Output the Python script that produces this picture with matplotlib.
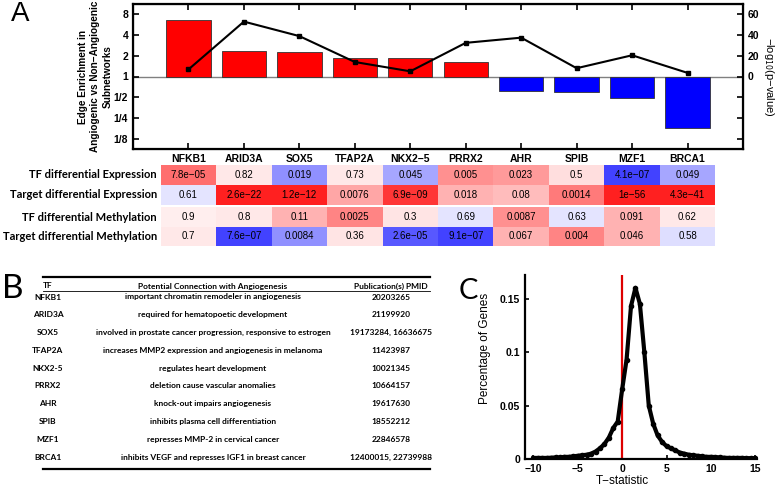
import numpy as np
import matplotlib
matplotlib.use('Agg')
import matplotlib.pyplot as plt

plt.rcParams['font.family'] = ['Liberation Sans', 'DejaVu Sans']

# ---- panel A data ----
tfs = ['NFKB1', 'ARID3A', 'SOX5', 'TFAP2A', 'NKX2−5', 'PRRX2', 'AHR', 'SPIB', 'MZF1', 'BRCA1']
enrichment = [6.6, 2.35, 2.25, 1.88, 1.88, 1.62, 0.62, 0.59, 0.49, 0.18]
neglogp = [6.8, 53, 39, 14, 5, 32.5, 37.5, 8, 20.5, 3.5]

row_names = ['TF differential Expression', 'Target differential Expression',
             'TF differential Methylation', 'Target differential Methylation']
pvals = [
    ['7.8e−05', '0.82', '0.019', '0.73', '0.045', '0.005', '0.023', '0.5', '4.1e−07', '0.049'],
    ['0.61', '2.6e−22', '1.2e−12', '0.0076', '6.9e−09', '0.018', '0.08', '0.0014', '1e−56', '4.3e−41'],
    ['0.9', '0.8', '0.11', '0.0025', '0.3', '0.69', '0.0087', '0.63', '0.091', '0.62'],
    ['0.7', '7.6e−07', '0.0084', '0.36', '2.6e−05', '9.1e−07', '0.067', '0.004', '0.046', '0.58'],
]
# signed colour intensity (red up, blue down)
heat = [
    [0.65, 0.1, -0.5, 0.1, -0.4, 0.5, 0.45, 0.15, -0.85, -0.4],
    [-0.12, 1.0, 1.0, 0.4, 0.9, 0.35, 0.3, 0.6, 1.0, 1.0],
    [0.08, 0.1, 0.35, 0.55, 0.12, -0.12, 0.5, -0.12, 0.35, 0.1],
    [0.1, -0.85, -0.5, 0.12, -0.75, -0.85, 0.35, 0.55, 0.35, -0.15],
]

# ---- panel B data ----
connections = ['important chromatin remodeler in angiogenesis',
               'required for hematopoetic development',
               'involved in prostate cancer progression, responsive to estrogen',
               'increases MMP2 expression and angiogenesis in melanoma',
               'regulates heart development',
               'deletion cause vascular anomalies',
               'knock-out impairs angiogenesis',
               'inhibits plasma cell differentiation',
               'represses MMP-2 in cervical cancer',
               'inhibits VEGF and represses IGF1 in breast cancer']
pmids = ['20203265', '21199920', '19173284, 16636675', '11423987', '10021345',
         '10664157', '19617630', '18552212', '22846578', '12400015, 22739988']

# ---- panel C data ----
t_stat = np.arange(-10, 15.5, 0.5)
pct_genes = [0.001, 0.001, 0.001, 0.001, 0.0012, 0.0015, 0.0015, 0.002, 0.002, 0.0025,
             0.003, 0.0035, 0.004, 0.005, 0.007, 0.010, 0.014, 0.020, 0.029, 0.035,
             0.065, 0.093, 0.143, 0.160, 0.145, 0.100, 0.050, 0.033, 0.022, 0.016,
             0.012, 0.010, 0.008, 0.006, 0.005, 0.004, 0.0035, 0.003, 0.0025, 0.002,
             0.002, 0.0018, 0.0015, 0.0012, 0.001, 0.001, 0.001, 0.001, 0.0008, 0.0008,
             0.0008]

W, H = 778, 488
fig = plt.figure(figsize=(W / 100, H / 100), dpi=100)

def box(l, t, r, b):
    return [l / W, 1 - b / H, (r - l) / W, (b - t) / H]

def fit_size(texts, width_px, ref):
    # scale a group of texts so the reference one is width_px wide
    fig.canvas.draw()
    w = ref.get_window_extent().width
    for t in texts:
        t.set_fontsize(t.get_fontsize() * width_px / w)

# overlay in pixel coords for letters and table
ov = fig.add_axes([0, 0, 1, 1])
ov.set_xlim(0, W)
ov.set_ylim(H, 0)
ov.axis('off')

# ---------------- panel A ----------------
ax = fig.add_axes(box(133, 4, 743, 149))
x = np.arange(1, len(tfs) + 1)
cols = ['red' if v >= 1 else 'blue' for v in enrichment]
ax.set_yscale('log', base=2)
ax.bar(x, np.array(enrichment) - 1, bottom=1, width=0.8, color=cols,
       edgecolor='#333333', linewidth=0.6, zorder=2)
ax.axhline(1, color='gray', lw=1, zorder=1)
ax.set_xlim(0, 11)
ax.set_ylim(2 ** -3.5, 2 ** 3.5)
yt = [8, 4, 2, 1, 1 / 2, 1 / 4, 1 / 8]
ax.set_yticks(yt)
ax.set_yticklabels(['8', '4', '2', '1', '1/2', '1/4', '1/8'])
ax.yaxis.set_minor_locator(matplotlib.ticker.NullLocator())
ax.set_xticks(x)
ax.set_xticklabels(tfs)
ax.tick_params(direction='in', length=4, width=1.2, labelsize=7.5, top=True)
for lab in ax.get_xticklabels() + ax.get_yticklabels():
    lab.set_fontweight('bold')
for s in ax.spines.values():
    s.set_linewidth(1.6)
ax.set_ylabel('Edge Enrichment in\nAngiogenic vs Non−Angiogenic\nSubnetworks', fontsize=7.2,
              fontweight='bold', linespacing=1.25)
ax.yaxis.set_label_coords(-0.034, 0.5)

ax2 = ax.twinx()
ax2.plot(x, neglogp, color='black', lw=1.5, marker='s', ms=3, zorder=3)
ax2.set_ylim(-70, 70)
ax2.set_yticks([-60, -40, -20, 0, 20, 40, 60])
ax2.set_yticklabels(['', '', '', '0', '20', '40', '60'])
ax2.tick_params(direction='in', length=4, width=1.2, labelsize=7.5)
for lab in ax2.get_yticklabels():
    lab.set_fontweight('bold')
ax2.set_ylabel('−log$_{10}$(p−value)', rotation=270, fontsize=8, labelpad=12)

# heatmap
hm = fig.add_axes(box(133, 165, 743, 246))
hm.set_xlim(0, 11)
hm.set_ylim(81, 0)
hm.axis('off')
edges_x = np.arange(0.5, 11, 1.0)
blocks = [(0, [0, 20, 39.5]), (2, [42.5, 62, 81])]
row_texts = []
for r0, ye in blocks:
    data = np.array(heat[r0:r0 + 2])
    hm.pcolormesh(edges_x, ye, data, cmap='bwr', vmin=-1.15, vmax=1.15, shading='flat')
    for k in range(2):
        yc = (ye[k] + ye[k + 1]) / 2
        row_texts.append(hm.text(0.43, yc, row_names[r0 + k], ha='right', va='center', fontsize=8,
                                 fontweight='bold', family=['Lato', 'DejaVu Sans']))
        for j in range(len(tfs)):
            hm.text(x[j], yc, pvals[r0 + k][j], ha='center', va='center', fontsize=7)
fit_size(row_texts, 155, row_texts[3])

ov.text(11, 14, 'A', fontsize=20, va='center', ha='left')

# ---------------- panel B ----------------
tfam = ['Lato', 'DejaVu Sans']
ov.text(2, 289, 'B', fontsize=24, va='center', ha='left', family=['Lato', 'DejaVu Sans'])
ov.plot([43, 430], [277, 277], color='black', lw=1.6)
ov.plot([43, 430], [291, 291], color='black', lw=0.6)
ov.plot([43, 430], [469, 469], color='black', lw=1.6)
col_x = [48, 213, 391]
tab_texts = []
for cx, h in zip(col_x, ['TF', 'Potential Connection with Angiogenesis', 'Publication(s) PMID']):
    tab_texts.append(ov.text(cx, 286, h, ha='center', va='center', fontsize=6,
                             fontweight='bold', family=tfam))
tf_plain = ['NFKB1', 'ARID3A', 'SOX5', 'TFAP2A', 'NKX2-5', 'PRRX2', 'AHR', 'SPIB', 'MZF1', 'BRCA1']
for i in range(len(tf_plain)):
    yy = 297 + i * 17.8
    for cx, s in zip(col_x, [tf_plain[i], connections[i], pmids[i]]):
        tab_texts.append(ov.text(cx, yy, s, ha='center', va='center', fontsize=6,
                                 fontweight='bold', family=tfam))
# the SOX5 description is the widest row
fit_size(tab_texts, 235, tab_texts[3 + 2 * 3 + 1])

# ---------------- panel C ----------------
ov.text(459, 291, 'C', fontsize=21, va='center', ha='left', family=['Lato', 'DejaVu Sans'])
axc = fig.add_axes(box(525, 275, 757, 459))
axc.plot(t_stat, pct_genes, color='black', lw=3, marker='o', ms=3, zorder=3)
axc.axvline(0, color='#dd0000', lw=1.6, zorder=2)
axc.set_xlim(-10.95, 15.2)
axc.set_ylim(0, 0.172)
axc.set_xticks([-10, -5, 0, 5, 10, 15])
axc.set_yticks([0, 0.05, 0.1, 0.15])
axc.set_yticklabels(['0', '0.05', '0.1', '0.15'])
axc.set_xticklabels(['−10', '−5', '0', '5', '10', '15'])
axc.tick_params(direction='in', length=3, width=1.2, labelsize=7.5)
for lab in axc.get_xticklabels() + axc.get_yticklabels():
    lab.set_fontweight('bold')
axc.spines['top'].set_visible(False)
axc.spines['right'].set_visible(False)
for s in ['left', 'bottom']:
    axc.spines[s].set_linewidth(1.6)
axc.set_xlabel('T−statistic', fontsize=8.5)
axc.xaxis.set_label_coords(0.42, -0.085)
axc.set_ylabel('Percentage of Genes', fontsize=8.5)
axc.yaxis.set_label_coords(-0.145, 0.6)

fig.savefig('out.png', dpi=100)
